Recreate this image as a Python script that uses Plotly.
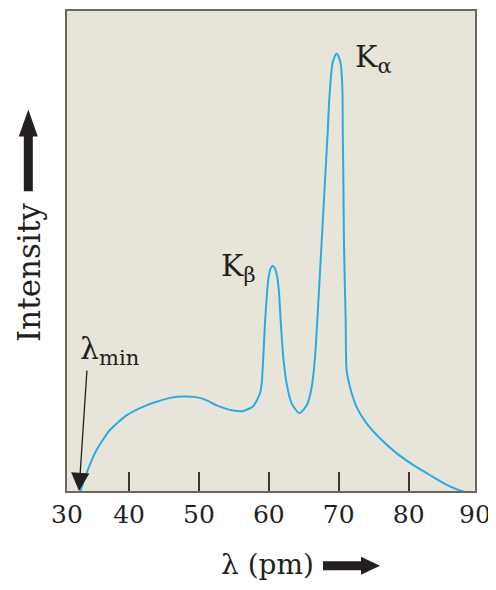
import plotly.graph_objects as go

# ---- data ----
wavelength_pm = [33.04, 33.90, 35.33, 37.23, 39.63, 42.49, 45.83, 48.22, 50.13, 51.30,
                 52.52, 54.90, 56.33, 57.77, 58.72, 58.97, 59.20, 59.44, 59.76, 59.97,
                 60.23, 60.56, 60.89, 61.19, 61.43, 61.72, 62.06, 62.55, 63.27, 64.36,
                 65.42, 66.13, 66.60, 66.93, 67.56, 68.13, 68.42, 68.65, 69.06, 69.33,
                 69.69, 70.05, 70.31, 70.48, 70.55, 70.57, 70.64, 70.74, 70.98, 71.12,
                 71.60, 72.56, 74.01, 75.92, 78.31, 80.69, 83.08, 85.47, 87.38, 87.81]
intensity = [0.0, 4.0, 9.3, 13.9, 17.3, 19.6, 21.3, 21.6, 21.3, 20.6,
             19.6, 18.4, 18.3, 19.4, 22.3, 24.5, 30.6, 38.2, 45.8, 49.0,
             50.8, 51.5, 50.8, 49.0, 45.8, 38.2, 30.6, 24.5, 20.0, 17.8,
             19.6, 23.8, 30.6, 39.0, 57.2, 73.9, 82.2, 89.8, 97.4, 99.1,
             100.0, 99.1, 97.4, 93.6, 89.8, 82.2, 73.9, 57.2, 39.4, 27.6,
             23.8, 19.2, 15.4, 12.0, 8.6, 5.9, 3.6, 1.4, 0.1, 0.0]
tick_labels = ["30", "40", "50", "60", "70", "80", "90"]
interior_ticks = [40, 50, 60, 70, 80]
x_range = [31.12, 89.49]
y_range = [0, 109.8]

# ---- layout geometry (page pixels; the page body adds an 8px offset) ----
PAGE_W, PAGE_H, OFF = 496, 590, 8
PL, PR, PT, PB = 67, 475, 9, 491          # plot frame on the page
W, H = PAGE_W - OFF, PAGE_H - OFF
ML, MR, MT, MB = PL - OFF, PAGE_W - PR, PT - OFF, PAGE_H - PB


def px(x):
    return (x - PL) / (PR - PL)


def py(y):
    return (PB - y) / (PB - PT)


SERIF = "DejaVu Serif"
INK = "#231f20"
BG = "#e7e4da"
FRAME = "#6b6660"
CURVE = "#29abe2"

fig = go.Figure()
fig.add_trace(go.Scatter(
    x=wavelength_pm, y=intensity, mode="lines",
    line=dict(color=CURVE, width=2, shape="spline", smoothing=0.6),
    hoverinfo="x+y", showlegend=False,
))

tickvals = [x_range[0]] + interior_ticks + [x_range[1]]

fig.update_layout(
    width=W, height=H,
    margin=dict(l=ML, r=MR, t=MT, b=MB, pad=0),
    paper_bgcolor="white",
    plot_bgcolor=BG,
    font=dict(family=SERIF, color=INK),
    xaxis=dict(
        range=x_range, tickvals=tickvals, ticktext=tick_labels,
        ticks="inside", ticklen=19, tickwidth=2, tickcolor="#3a3633",
        tickfont=dict(family=SERIF, size=25, color=INK),
        showgrid=False, zeroline=False,
        showline=True, mirror=True, linecolor=FRAME, linewidth=1.5,
    ),
    yaxis=dict(
        range=y_range, showticklabels=False, ticks="",
        showgrid=False, zeroline=False,
        showline=True, mirror=True, linecolor=FRAME, linewidth=1.5,
    ),
)

# peak labels
fig.add_annotation(text="K<sub>α</sub>", xref="paper", yref="paper",
                   x=px(353), y=py(57), xanchor="left", yanchor="middle",
                   showarrow=False, font=dict(family=SERIF, size=30, color=INK))
fig.add_annotation(text="K<sub>β</sub>", xref="paper", yref="paper",
                   x=px(219), y=py(267), xanchor="left", yanchor="middle",
                   showarrow=False, font=dict(family=SERIF, size=30, color=INK))
fig.add_annotation(text="λ<sub>min</sub>", xref="paper", yref="paper",
                   x=px(78), y=py(350), xanchor="left", yanchor="middle",
                   showarrow=False, font=dict(family=SERIF, size=30, color=INK))
# lambda_min arrow
fig.add_annotation(text="", x=wavelength_pm[0] - 0.2, y=0, xref="x", yref="y",
                   ax=8, ay=-122, axref="pixel", ayref="pixel",
                   showarrow=True, arrowhead=2, arrowsize=2.8, arrowwidth=1.3,
                   arrowcolor=INK, standoff=0)

# axis titles
fig.add_annotation(text="Intensity", xref="paper", yref="paper",
                   x=px(29), y=py(272), xanchor="center", yanchor="middle",
                   textangle=-90, showarrow=False,
                   font=dict(family=SERIF, size=31, color=INK))
fig.add_annotation(text="λ (pm)", xref="paper", yref="paper",
                   x=px(267), y=py(565), xanchor="center", yanchor="middle",
                   showarrow=False, font=dict(family=SERIF, size=28, color=INK))


# big block arrows next to the axis titles
def poly(points):
    return "M " + " L ".join(f"{px(a):.5f},{py(b):.5f}" for a, b in points) + " Z"


up_arrow = [(23.8, 190), (23.8, 135), (18.8, 135), (28.3, 108), (37.8, 135),
            (32.8, 135), (32.8, 190)]
right_arrow = [(323, 561.5), (361, 561.5), (361, 557), (380, 566), (361, 575),
               (361, 570.5), (323, 570.5)]
for pts in (up_arrow, right_arrow):
    fig.add_shape(type="path", path=poly(pts), xref="paper", yref="paper",
                  fillcolor=INK, line=dict(width=0), layer="above")

fig.write_html("out.html")
